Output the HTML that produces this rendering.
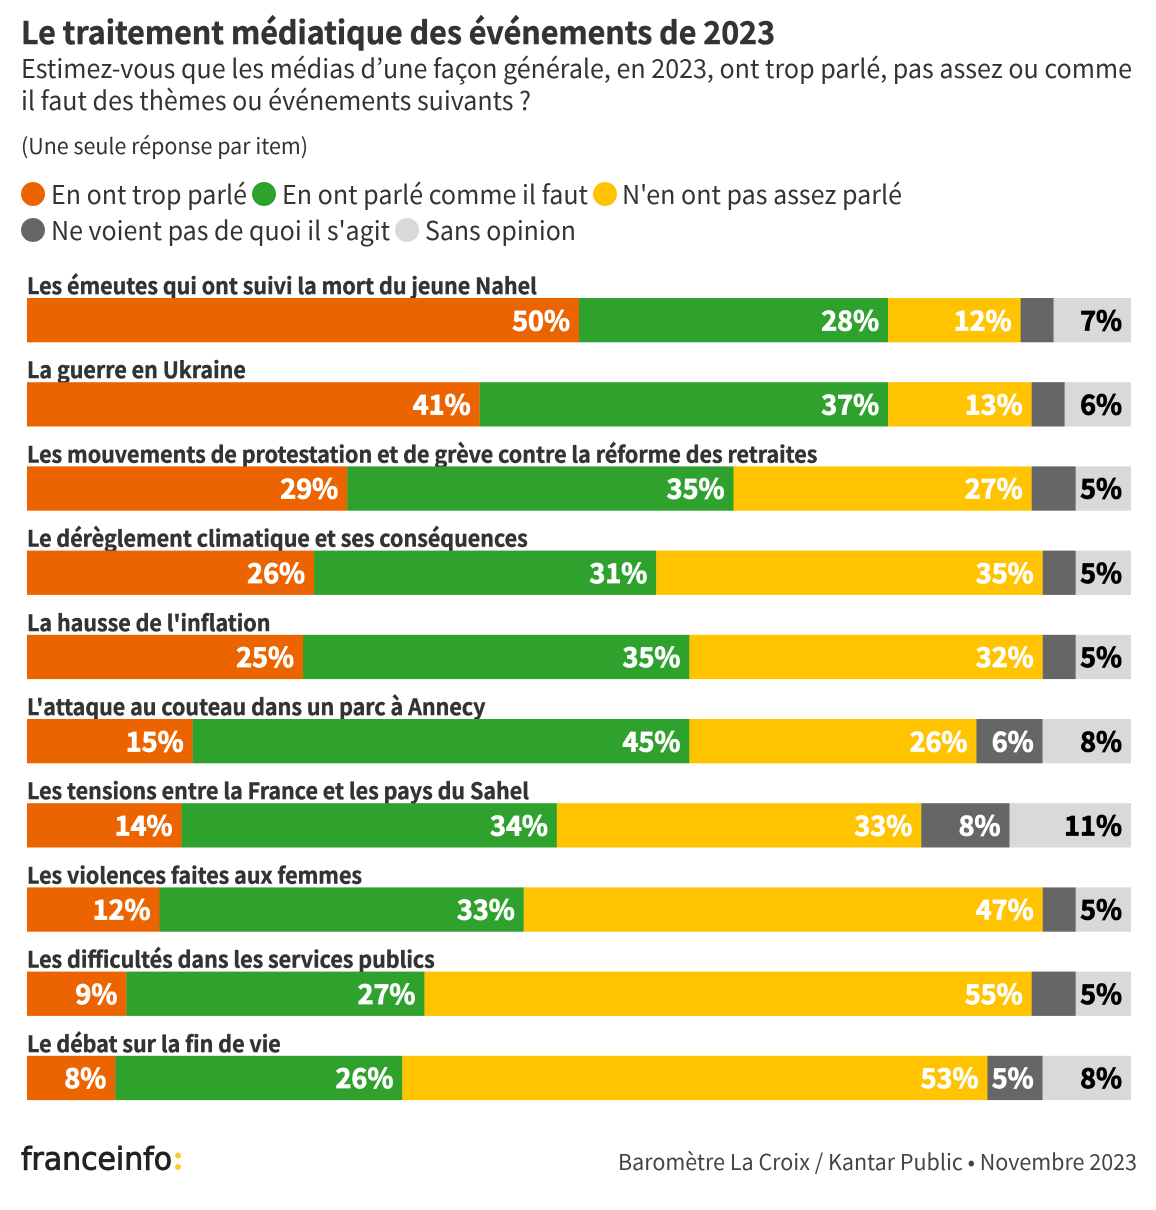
<!DOCTYPE html>
<html lang="fr">
<head>
<meta charset="utf-8">
<title>Le traitement médiatique des événements de 2023</title>
<style>
html,body{margin:0;padding:0;background:#fff}
#root{position:relative;width:1156px;height:1210px;overflow:hidden}
svg{display:block}
text{font-family:"Noto Sans CJK JP","Liberation Sans",sans-serif}
</style>
</head>
<body>
<div id="root">
<svg id="chart" width="1156" height="1210" viewBox="0 0 1156 1210">
<text x="21" y="44" font-size="31" font-weight="700" fill="#333" stroke="#333" stroke-width="0.5" textLength="754" lengthAdjust="spacingAndGlyphs">Le traitement médiatique des événements de 2023</text>
<text x="21" y="78" font-size="26" fill="#333" textLength="1111" lengthAdjust="spacingAndGlyphs">Estimez-vous que les médias d’une façon générale, en 2023, ont trop parlé, pas assez ou comme</text>
<text x="21" y="110" font-size="26" fill="#333" textLength="510" lengthAdjust="spacingAndGlyphs">il faut des thèmes ou événements suivants ?</text>
<text x="21" y="154" font-size="22" fill="#333" textLength="287" lengthAdjust="spacingAndGlyphs">(Une seule réponse par item)</text>
<g>
<g><circle cx="33" cy="194" r="12" fill="#ec6400"/><text x="51" y="204" font-size="26" fill="#333" textLength="196" lengthAdjust="spacingAndGlyphs">En ont trop parlé</text></g>
<g><circle cx="264" cy="194" r="12" fill="#2fa12d"/><text x="282" y="204" font-size="26" fill="#333" textLength="306" lengthAdjust="spacingAndGlyphs">En ont parlé comme il faut</text></g>
<g><circle cx="605" cy="194" r="12" fill="#ffc300"/><text x="622" y="204" font-size="26" fill="#333" textLength="280" lengthAdjust="spacingAndGlyphs">N'en ont pas assez parlé</text></g>
<g><circle cx="33" cy="230" r="12" fill="#666"/><text x="51" y="240" font-size="26" fill="#333" textLength="339" lengthAdjust="spacingAndGlyphs">Ne voient pas de quoi il s'agit</text></g>
<g><circle cx="407" cy="230" r="12" fill="#d9d9d9"/><text x="425" y="240" font-size="26" fill="#333" textLength="151" lengthAdjust="spacingAndGlyphs">Sans opinion</text></g>
</g>
<g id="rows"></g>
<g>
<text x="21" y="1169.5" font-size="31" fill="#222" stroke="#222" stroke-width="0.9" textLength="151" lengthAdjust="spacingAndGlyphs" style="font-family:'DejaVu Sans',sans-serif">franceinfo</text>
<circle cx="178" cy="1155.5" r="3" fill="#ffc82c"/><circle cx="178" cy="1167" r="3" fill="#ffc82c"/>
</g>
<text x="1137" y="1170" font-size="22" fill="#444" text-anchor="end" textLength="519" lengthAdjust="spacingAndGlyphs">Baromètre La Croix / Kantar Public • Novembre 2023</text>
</svg>
</div>
<script>
const categories = [
  "Les émeutes qui ont suivi la mort du jeune Nahel",
  "La guerre en Ukraine",
  "Les mouvements de protestation et de grève contre la réforme des retraites",
  "Le dérèglement climatique et ses conséquences",
  "La hausse de l'inflation",
  "L'attaque au couteau dans un parc à Annecy",
  "Les tensions entre la France et les pays du Sahel",
  "Les violences faites aux femmes",
  "Les difficultés dans les services publics",
  "Le débat sur la fin de vie"
];
const tropParle = [50, 41, 29, 26, 25, 15, 14, 12, 9, 8];
const commeIlFaut = [28, 37, 35, 31, 35, 45, 34, 33, 27, 26];
const pasAssez = [12, 13, 27, 35, 32, 26, 33, 47, 55, 53];
const neVoientPas = [3, 3, 4, 3, 3, 6, 8, 3, 4, 5];
const sansOpinion = [7, 6, 5, 5, 5, 8, 11, 5, 5, 8];

const SVG_NS = "http://www.w3.org/2000/svg";
const plotLeft = 27, plotWidth = 1104, rowTop = 298, rowPitch = 84.2, barHeight = 44.3;
const stacks = [
  {key: "trop-parle", values: tropParle, color: "#ec6400", text: "#fff"},
  {key: "comme-il-faut", values: commeIlFaut, color: "#2fa12d", text: "#fff"},
  {key: "pas-assez", values: pasAssez, color: "#ffc300", text: "#fff"},
  {key: "ne-voient-pas", values: neVoientPas, color: "#666", text: "#fff"},
  {key: "sans-opinion", values: sansOpinion, color: "#d9d9d9", text: "#000"}
];
function xScale(v) { return plotLeft + v / 100 * plotWidth; }
function yScale(i) { return rowTop + i * rowPitch; }

const rows = document.getElementById("rows");
categories.forEach(function (label, i) {
  const row = document.createElementNS(SVG_NS, "g");
  
  
  const title = document.createElementNS(SVG_NS, "text");
  
  
  title.setAttribute("x", plotLeft);
  title.setAttribute("y", yScale(i) - 4);
  title.setAttribute("font-size", "22");
  title.setAttribute("font-weight", "700");
  title.setAttribute("fill", "#333");
  title.setAttribute("stroke", "#333");
  title.setAttribute("stroke-width", "0.45");
  title.textContent = label;
  row.appendChild(title);
  rows.appendChild(row);
  title.setAttribute("textLength", title.getComputedTextLength() * 0.975);
  title.setAttribute("lengthAdjust", "spacingAndGlyphs");
  let sum = 0;
  stacks.forEach(function (s) {
    const v = s.values[i];
    const x0 = xScale(sum), x1 = xScale(sum + v);
    sum += v;
    const rect = document.createElementNS(SVG_NS, "rect");
    
    
    rect.setAttribute("x", x0);
    rect.setAttribute("y", yScale(i));
    rect.setAttribute("width", x1 - x0);
    rect.setAttribute("height", barHeight);
    rect.setAttribute("fill", s.color);
    row.appendChild(rect);
    if (v >= 5) {
      const t = document.createElementNS(SVG_NS, "text");
      
      
      t.setAttribute("x", x1 - 9);
      t.setAttribute("y", yScale(i) + 32.3);
      t.setAttribute("text-anchor", "end");
      t.setAttribute("font-size", "27");
      t.setAttribute("font-weight", "700");
      t.setAttribute("fill", s.text);
      t.setAttribute("stroke", s.text);
      t.setAttribute("stroke-width", "0.8");
      t.textContent = v + "%";
      row.appendChild(t);
    }
  });
});
</script>
</body>
</html>
